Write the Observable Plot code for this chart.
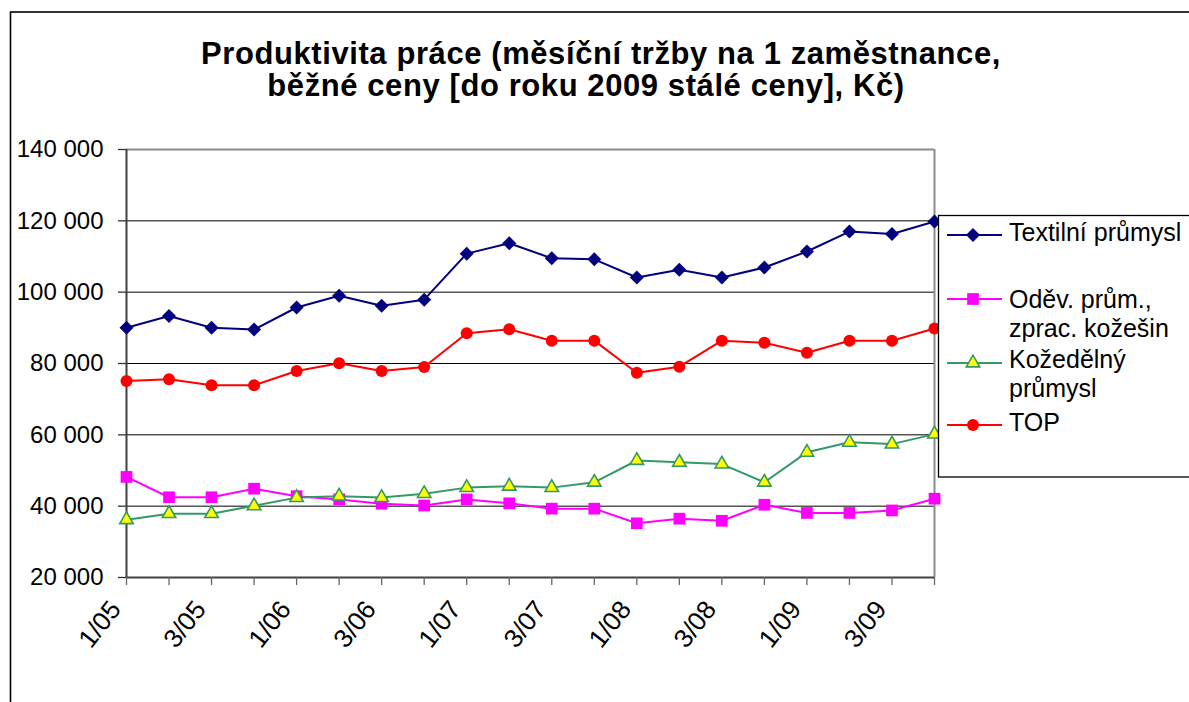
<!DOCTYPE html>
<html>
<head>
<meta charset="utf-8">
<script src="https://cdn.jsdelivr.net/npm/d3@7"></script>
<script src="https://cdn.jsdelivr.net/npm/@observablehq/plot@0.6"></script>
<style>
  html, body { margin: 0; padding: 0; background: #fff; overflow: hidden; width: 1189px; height: 702px; }
  #chart { position: absolute; left: 0; top: 0; }
</style>
</head>
<body>
<div id="chart"></div>
<script>
// ---- data ----
const quarters = ["1/05","2/05","3/05","4/05","1/06","2/06","3/06","4/06","1/07","2/07","3/07","4/07","1/08","2/08","3/08","4/08","1/09","2/09","3/09","4/09"];
const xTickLabels = ["1/05","3/05","1/06","3/06","1/07","3/07","1/08","3/08","1/09","3/09"];
const yTicks = [20000, 40000, 60000, 80000, 100000, 120000, 140000];
const seriesNames = ["Textilní průmysl", "Oděv. prům., zprac. kožešin", "Kožedělný průmysl", "TOP"];
const textilValues = [90000, 93300, 90000, 89500, 95700, 99000, 96200, 97900, 110800, 113700, 109500, 109200, 104100, 106300, 104100, 106900, 111400, 117000, 116300, 119800];
const odevValues = [48200, 42500, 42500, 44900, 42800, 41900, 40700, 40200, 41900, 40800, 39300, 39300, 35200, 36500, 35900, 40400, 38100, 38100, 38800, 42100];
const kozeValues = [36200, 37900, 37900, 40100, 42400, 42800, 42400, 43500, 45200, 45600, 45200, 46700, 52800, 52300, 51800, 46700, 55100, 57900, 57400, 60200];
const topValues = [75100, 75600, 73900, 73900, 77900, 80100, 77900, 79000, 88500, 89600, 86400, 86400, 77400, 79100, 86400, 85800, 83000, 86400, 86400, 89800];
const titleLines = ["Produktivita práce (měsíční tržby na 1 zaměstnance,", "běžné ceny [do roku 2009 stálé ceny], Kč)"];
const legendLines = [["Textilní průmysl"], ["Oděv. prům.,", "zprac. kožešin"], ["Kožedělný", "průmysl"], ["TOP"]];

// ---- styles per series ----
const styles = [
  {stroke: "#000080", fill: "#000080", symbol: "diamond2", r: 6.3, sw: 0},
  {stroke: "#FF00FF", fill: "#FF00FF", symbol: "square", r: 6.6, sw: 0},
  {stroke: "#339966", fill: "#FFFF00", symbol: "triangle", r: 5.0, sw: 1.6},
  {stroke: "#FF0000", fill: "#FF0000", symbol: "circle", r: 6.0, sw: 0}
];
const allValues = [textilValues, odevValues, kozeValues, topValues];
const rows = allValues.map((vals) => vals.map((v, i) => ({q: quarters[i], v})));

const fmt = (d) => d3.format(",")(d).replace(/,/g, " ");

const marks = [
  Plot.gridY(yTicks, {stroke: "#000", strokeOpacity: 1, strokeWidth: 1}),
  Plot.ruleY([yTicks[yTicks.length - 1]], {stroke: "#8c8c8c", strokeWidth: 2}),
  Plot.ruleX([quarters[quarters.length - 1]], {stroke: "#8c8c8c", strokeWidth: 2}),
  Plot.ruleX([quarters[0]], {stroke: "#404040", strokeWidth: 2}),
  Plot.ruleY([yTicks[0]], {stroke: "#404040", strokeWidth: 2}),
  Plot.axisY({ticks: yTicks, tickFormat: fmt, tickSize: 8, tickPadding: 15, fontSize: 24, stroke: "#333", strokeWidth: 1.3, fill: "#000"}),
  // tick marks at every quarter
  Plot.axisX({ticks: quarters, tickSize: 8, stroke: "#666", strokeWidth: 1.3, tickFormat: () => ""}),
  // rotated labels at every other quarter
  Plot.axisX({ticks: xTickLabels, tickSize: 0, tickPadding: 27, tickRotate: -52, fontSize: 26, fill: "#000", dx: -11})
];
rows.forEach((data, k) => {
  const st = styles[k];
  marks.push(Plot.line(data, {x: "q", y: "v", stroke: st.stroke, strokeWidth: 2}));
});
rows.forEach((data, k) => {
  const st = styles[k];
  marks.push(Plot.dot(data, {x: "q", y: "v", symbol: () => st.symbol, r: st.r, fill: st.fill, stroke: st.sw ? st.stroke : "none", strokeWidth: st.sw}));
});

const svgNode = Plot.plot({
  width: 1189,
  height: 702,
  marginTop: 149,
  marginLeft: 126,
  marginRight: 255,
  marginBottom: 125,
  style: {fontFamily: "'Liberation Sans', Arial, sans-serif", background: "transparent", overflow: "visible"},
  x: {type: "point", domain: quarters, padding: 0, round: false, label: null},
  y: {domain: [yTicks[0], yTicks[yTicks.length - 1]], label: null},
  symbol: {type: "identity"},
  marks
});
document.getElementById("chart").appendChild(svgNode);

const svg = d3.select(svgNode);
// outer chart border
svg.insert("rect", ":first-child")
  .attr("x", 10.5).attr("y", 12).attr("width", 1300).attr("height", 800)
  .attr("fill", "#fff").attr("stroke", "#000").attr("stroke-width", 1.6);

// title (font size fitted to the reference line widths)
const title = svg.append("g").attr("font-family", "'Liberation Sans', Arial, sans-serif")
  .attr("font-weight", "bold").attr("fill", "#000").attr("text-anchor", "middle");
const t1 = title.append("text").attr("x", 601).attr("y", 64).attr("font-size", 24).attr("letter-spacing", "0.6px").text(titleLines[0]);
const t2 = title.append("text").attr("x", 586).attr("y", 96).attr("font-size", 24).attr("letter-spacing", "0.6px").text(titleLines[1]);
const w1 = t1.node().getComputedTextLength();
const w2 = t2.node().getComputedTextLength();
const fs = 24 * ((792 / w1) + (658 / w2)) / 2;
t1.attr("font-size", fs.toFixed(2));
t2.attr("font-size", fs.toFixed(2));

// legend
const lg = svg.append("g").attr("font-family", "'Liberation Sans', Arial, sans-serif").attr("font-size", 25).attr("text-anchor", "start");
lg.append("rect").attr("x", 938.5).attr("y", 215.5).attr("width", 400).attr("height", 261.5)
  .attr("fill", "#fff").attr("stroke", "#000").attr("stroke-width", 1.3);
const lineYs = [235, 299, 363, 425];
const textBaselines = [[241], [308, 337], [368, 397], [431]];
const symMap = {diamond2: d3.symbolDiamond2, square: d3.symbolSquare, triangle: d3.symbolTriangle, circle: d3.symbolCircle};
styles.forEach((st, k) => {
  const y = lineYs[k];
  lg.append("line").attr("x1", 947).attr("x2", 1002).attr("y1", y).attr("y2", y)
    .attr("stroke", st.stroke).attr("stroke-width", 2);
  lg.append("path").attr("transform", `translate(973,${y})`)
    .attr("d", d3.symbol(symMap[st.symbol], Math.PI * st.r * st.r)())
    .attr("fill", st.fill).attr("stroke", st.sw ? st.stroke : "none").attr("stroke-width", st.sw);
  legendLines[k].forEach((t, j) => {
    lg.append("text").attr("x", 1009).attr("y", textBaselines[k][j]).attr("fill", "#000").text(t);
  });
});
</script>
</body>
</html>
